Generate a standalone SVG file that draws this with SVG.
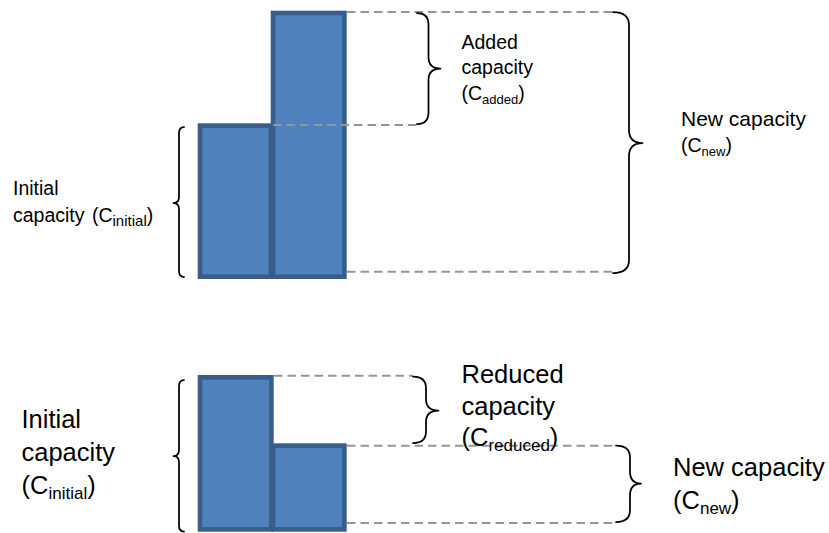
<svg xmlns="http://www.w3.org/2000/svg" width="829" height="533" viewBox="0 0 829 533">
<style>
.bar{fill:#4F81BD;stroke:#385D8A;stroke-width:4.6}
.dash{stroke:#969696;stroke-width:2;stroke-dasharray:8.5 5;fill:none}
.brace{fill:none;stroke:#000;stroke-width:1.75;stroke-linejoin:round;stroke-linecap:round}
.t1{font-family:"Liberation Sans",Arial,sans-serif;font-size:19.5px;fill:#000}
.t2{font-family:"Liberation Sans",Arial,sans-serif;font-size:25.5px;fill:#000}
</style>
<rect width="829" height="533" fill="#fff"/>
<g id="top-bars">
<rect id="bar-initial-top" class="bar" x="200" y="125.6" width="71" height="151.1"/>
<rect id="bar-new-top" class="bar" x="273" y="13" width="71.4" height="263.7"/>
</g>
<g id="bottom-bars">
<rect id="bar-initial-bottom" class="bar" x="200" y="377.3" width="71.4" height="152.1"/>
<rect id="bar-new-bottom" class="bar" x="273" y="445.6" width="71.4" height="83.8"/>
</g>
<g id="connectors">
<line class="dash" x1="347" y1="12" x2="613" y2="12"/>
<line class="dash" x1="273" y1="125" x2="417" y2="125"/>
<line class="dash" x1="347" y1="271.7" x2="613" y2="271.7"/>
<line class="dash" x1="274" y1="375.7" x2="413" y2="375.7"/>
<line class="dash" x1="347" y1="445.7" x2="616" y2="445.7"/>
<line class="dash" x1="347" y1="523" x2="616" y2="523"/>
</g>
<g id="brace-initial-top">
<path class="brace" d="M184,127 Q179,127 179,133 V197 Q179,203 173.5,203 Q179,203 179,209 V271 Q179,277 184,277"/>
<text class="t1" x="13" y="195">Initial</text>
<text class="t1" x="13" y="222" word-spacing="2">capacity (C<tspan font-size="15" dy="4">initial</tspan><tspan dy="-4">)</tspan></text>
</g>
<g id="brace-added">
<path class="brace" d="M417,13 Q428.5,13 428.5,24.5 V57 Q428.5,68.5 440.5,68.5 Q428.5,68.5 428.5,80 V112.5 Q428.5,124 417,124"/>
<text class="t1" x="461.5" y="48.5">Added</text>
<text class="t1" x="461.5" y="74">capacity</text>
<text class="t1" x="461.5" y="99.5">(C<tspan font-size="13" dy="4">added</tspan><tspan dy="-4">)</tspan></text>
</g>
<g id="brace-new-top">
<path class="brace" d="M613,12 Q629,12 629,25 V130 Q629,143 642.5,143 Q629,143 629,156 V260 Q629,273 613,273"/>
<text class="t1" x="681" y="126" style="font-size:21px">New capacity</text>
<text class="t1" x="681" y="152">(C<tspan font-size="13" dy="4">new</tspan><tspan dy="-4">)</tspan></text>
</g>
<g id="brace-initial-bottom">
<path class="brace" d="M184,380 Q179,380 179,386 V450 Q179,456 173.5,456 Q179,456 179,462 V525.5 Q179,531.5 184,531.5"/>
<text class="t2" x="21.5" y="428">Initial</text>
<text class="t2" x="21.5" y="461">capacity</text>
<text class="t2" x="21.5" y="494">(C<tspan font-size="17" dy="5">initial</tspan><tspan dy="-5">)</tspan></text>
</g>
<g id="brace-reduced">
<path class="brace" d="M413,376.5 Q426,376.5 426,388 V399 Q426,410.5 438.5,410.5 Q426,410.5 426,422 V431.5 Q426,443 413,443"/>
<text class="t2" x="461.5" y="383">Reduced</text>
<text class="t2" x="461.5" y="414.5">capacity</text>
<text class="t2" x="461.5" y="446">(C<tspan font-size="17" dy="5">reduced</tspan><tspan dy="-5">)</tspan></text>
</g>
<g id="brace-new-bottom">
<path class="brace" d="M616,445.5 Q630,445.5 630,457.5 V471.5 Q630,483.5 641,483.5 Q630,483.5 630,495.5 V510 Q630,522 616,522"/>
<text class="t2" x="673" y="476">New capacity</text>
<text class="t2" x="673" y="509">(C<tspan font-size="17" dy="5">new</tspan><tspan dy="-5">)</tspan></text>
</g>
</svg>
